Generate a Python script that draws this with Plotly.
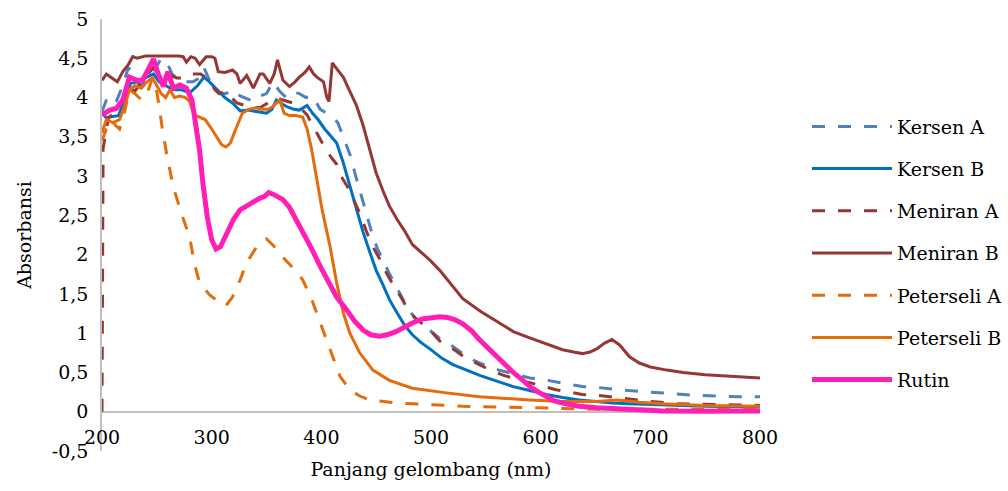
import plotly.graph_objects as go

# ---------------- data ----------------
x_ticks = [200, 300, 400, 500, 600, 700, 800]
y_tickvals = [-0.5, 0, 0.5, 1, 1.5, 2, 2.5, 3, 3.5, 4, 4.5, 5]
y_ticktext = ["-0,5", "0", "0,5", "1", "1,5", "2", "2,5", "3", "3,5", "4", "4,5", "5"]

kersen_a_x = [200, 204, 208, 213, 218, 224, 229, 234, 240, 245, 250, 254, 259, 264, 270, 277, 283, 289, 293, 297,
              302, 307, 313, 319, 326, 332, 338, 344, 350, 356, 362, 368, 374, 380, 386, 392, 399, 405, 410, 415,
              420, 426, 431, 436, 441, 446, 451, 456, 462, 467, 473, 479, 485, 492, 499, 508, 520, 530, 541, 551,
              562, 578, 590, 602, 614, 626, 638, 651, 663, 680, 700, 720, 740, 760, 780, 800]
kersen_a_y = [3.82, 3.97, 3.9, 3.95, 4.12, 4.38, 4.3, 4.15, 4.22, 4.28, 4.4, 4.5, 4.45, 4.3, 4.22, 4.2, 4.2, 4.25, 4.38, 4.25,
              4.12, 4.05, 4.05, 4.1, 4.02, 3.98, 3.95, 4.02, 4.05, 4.2, 4.08, 4.0, 4.07, 4.05, 4.0, 4.02, 3.85, 3.8, 3.75, 3.68,
              3.5, 3.28, 3.02, 2.77, 2.52, 2.28, 2.08, 1.93, 1.76, 1.63, 1.46, 1.31, 1.2, 1.12, 1.04, 0.93, 0.83, 0.73, 0.64, 0.58,
              0.53, 0.47, 0.43, 0.41, 0.38, 0.35, 0.32, 0.31, 0.29, 0.27, 0.25, 0.23, 0.21, 0.2, 0.19, 0.19]

kersen_b_x = [200, 204, 210, 215, 220, 226, 232, 240, 247, 252, 258, 265, 272, 280, 287, 293, 298, 305, 312, 319,
              326, 333, 341, 350, 355, 359, 364, 369, 375, 380, 387, 392, 397, 403, 408, 414, 420, 426, 432, 438,
              444, 450, 456, 462, 469, 476, 483, 491, 499, 510, 520, 530, 545, 560, 575, 590, 605, 620, 635, 651,
              665, 680, 700, 720, 750, 800]
kersen_b_y = [3.8, 3.74, 3.76, 3.77, 3.95, 4.18, 4.2, 4.25, 4.3, 4.2, 4.15, 4.1, 4.1, 4.06, 4.15, 4.26, 4.2, 4.1, 4.0, 3.93,
              3.83, 3.84, 3.82, 3.8, 3.85, 3.97, 3.92, 3.88, 3.85, 3.84, 3.9, 3.8, 3.72, 3.6, 3.52, 3.42, 3.17, 2.87, 2.57, 2.29,
              2.04, 1.8, 1.62, 1.43, 1.26, 1.1, 0.98, 0.88, 0.8, 0.68, 0.6, 0.54, 0.46, 0.39, 0.32, 0.27, 0.22, 0.18, 0.15, 0.13,
              0.11, 0.1, 0.09, 0.08, 0.07, 0.06]

meniran_a_x = [200, 201, 206, 212, 218, 224, 230, 236, 242, 248, 254, 260, 268, 275, 282, 290, 298, 303, 307, 312,
               318, 323, 330, 338, 344, 350, 356, 362, 368, 374, 380, 387, 393, 399, 405, 410, 414, 417, 424, 430,
               435, 441, 447, 453, 460, 467, 473, 479, 485, 492, 499, 508, 520, 530, 541, 551, 565, 578, 590, 602,
               614, 626, 638, 651, 663, 681, 700, 726, 760, 800]
meniran_a_y = [0, 3.35, 3.75, 3.8, 3.95, 4.15, 4.08, 4.2, 4.3, 4.4, 4.35, 4.3, 4.25, 4.25, 4.3, 4.3, 4.22, 4.1, 4.05, 4.08,
               4.0, 3.93, 3.9, 3.88, 3.87, 3.92, 3.98, 3.98, 3.95, 3.93, 3.88, 3.78, 3.62, 3.47, 3.32, 3.22, 3.15, 3.02, 2.86, 2.68,
               2.53, 2.3, 2.1, 1.95, 1.75, 1.58, 1.45, 1.3, 1.2, 1.12, 1.04, 0.9, 0.8, 0.7, 0.62, 0.55, 0.47, 0.41, 0.37, 0.32,
               0.28, 0.25, 0.22, 0.21, 0.19, 0.16, 0.13, 0.1, 0.09, 0.08]

meniran_b_x = [200, 204, 209, 214, 219, 224, 228, 232, 240, 250, 260, 270, 274, 277, 281, 285, 289, 295, 300, 303,
               306, 312, 319, 323, 326, 332, 338, 344, 347, 353, 357, 360, 365, 371, 376, 380, 385, 389, 393, 396,
               402, 405, 407, 410, 415, 420, 426, 432, 438, 444, 450, 456, 462, 469, 476, 483, 490, 499, 508, 517,
               529, 545, 560, 575, 590, 605, 620, 630, 638, 645, 651, 658, 665, 672, 681, 690, 700, 715, 730, 750,
               775, 800]
meniran_b_y = [4.22, 4.3, 4.25, 4.2, 4.33, 4.42, 4.52, 4.5, 4.53, 4.53, 4.53, 4.53, 4.52, 4.45, 4.52, 4.5, 4.42, 4.52, 4.52, 4.5,
               4.33, 4.32, 4.35, 4.3, 4.18, 4.28, 4.12, 4.3, 4.3, 4.18, 4.3, 4.48, 4.22, 4.14, 4.2, 4.26, 4.32, 4.39, 4.3, 4.26,
               4.2, 4.0, 3.95, 4.44, 4.35, 4.26, 4.08, 3.9, 3.65, 3.36, 3.04, 2.82, 2.62, 2.45, 2.3, 2.13, 2.04, 1.93, 1.8, 1.64,
               1.44, 1.28, 1.15, 1.02, 0.94, 0.86, 0.79, 0.76, 0.74, 0.76, 0.8, 0.87, 0.92, 0.85, 0.7, 0.62, 0.57, 0.53, 0.5, 0.47,
               0.45, 0.43]

peterseli_a_x = [200, 204, 208, 212, 216, 220, 225, 230, 236, 241, 246, 249, 252, 255, 259, 265, 273, 280, 284, 289,
                 298, 307, 313, 319, 326, 332, 341, 350, 356, 362, 368, 375, 383, 392, 399, 405, 410, 417, 426, 435,
                 444, 469, 499, 529, 560, 590, 620, 660, 700, 750, 800]
peterseli_a_y = [3.45, 3.6, 3.72, 3.65, 3.6, 3.78, 4.1, 4.05, 3.97, 4.05, 4.25, 4.15, 3.9, 3.6, 3.28, 2.86, 2.5, 2.22, 1.9, 1.64,
                 1.49, 1.39, 1.35, 1.46, 1.68, 1.9, 2.1, 2.2, 2.12, 2.02, 1.92, 1.82, 1.68, 1.4, 1.13, 0.9, 0.7, 0.45, 0.28, 0.2,
                 0.15, 0.11, 0.09, 0.07, 0.06, 0.05, 0.04, 0.03, 0.03, 0.03, 0.03]

peterseli_b_x = [200, 204, 210, 216, 221, 225, 230, 236, 241, 246, 250, 254, 258, 262, 266, 271, 276, 280, 284, 289,
                 294, 300, 305, 309, 313, 317, 322, 328, 334, 340, 346, 352, 357, 362, 366, 371, 377, 383, 387, 391,
                 396, 401, 408, 414, 420, 426, 435, 447, 462, 483, 514, 544, 590, 620, 651, 670, 690, 711, 750, 800]
peterseli_b_y = [3.55, 3.72, 3.68, 3.72, 3.9, 4.1, 4.15, 4.12, 4.2, 4.25, 4.15, 4.05, 4.0, 4.1, 4.0, 4.02, 4.0, 3.95, 3.78, 3.75,
                 3.72, 3.6, 3.48, 3.4, 3.37, 3.42, 3.6, 3.8, 3.85, 3.87, 3.85, 3.85, 3.9, 3.97, 3.8, 3.77, 3.77, 3.75, 3.6, 3.35,
                 2.95, 2.55, 2.1, 1.64, 1.26, 1.0, 0.75, 0.53, 0.4, 0.3, 0.24, 0.19, 0.15, 0.13, 0.13, 0.15, 0.12, 0.1, 0.08, 0.07]

rutin_x = [200, 207, 213, 219, 225, 232, 237, 242, 247, 251, 256, 260, 265, 271, 277, 282, 286, 289, 292, 296,
           300, 304, 308, 314, 320, 326, 332, 338, 344, 348, 352, 356, 360, 365, 371, 377, 383, 391, 399, 407,
           414, 423, 430, 438, 445, 453, 460, 468, 476, 483, 492, 500, 508, 515, 522, 529, 537, 544, 552, 560,
           568, 575, 583, 590, 598, 605, 612, 620, 635, 651, 680, 711, 750, 800]
rutin_y = [3.78, 3.84, 3.86, 3.97, 4.26, 4.22, 4.22, 4.35, 4.49, 4.31, 4.14, 4.33, 4.12, 4.16, 4.12, 3.97, 3.63, 3.33, 2.91, 2.48,
           2.19, 2.07, 2.1, 2.28, 2.45, 2.57, 2.62, 2.68, 2.72, 2.74, 2.79, 2.77, 2.74, 2.7, 2.6, 2.45, 2.28, 2.08, 1.85, 1.64,
           1.46, 1.3, 1.16, 1.04, 0.98, 0.96, 0.98, 1.02, 1.08, 1.13, 1.18, 1.2, 1.21, 1.2, 1.17, 1.12, 1.03, 0.92, 0.81, 0.7,
           0.6, 0.5, 0.41, 0.32, 0.25, 0.19, 0.14, 0.11, 0.07, 0.05, 0.03, 0.01, 0.005, 0.01]

# ---------------- styling ----------------
FONT = "DejaVu Serif"
FS = 19
DASH = "13px,13px"
series = [
    ("Kersen A", kersen_a_x, kersen_a_y, "#4F81BD", DASH, 3),
    ("Kersen B", kersen_b_x, kersen_b_y, "#0070C0", "solid", 3),
    ("Meniran A", meniran_a_x, meniran_a_y, "#953735", DASH, 3),
    ("Meniran B", meniran_b_x, meniran_b_y, "#953735", "solid", 3),
    ("Peterseli A", peterseli_a_x, peterseli_a_y, "#E46C0A", DASH, 3),
    ("Peterseli B", peterseli_b_x, peterseli_b_y, "#E46C0A", "solid", 3),
    ("Rutin", rutin_x, rutin_y, "#FF1FB5", "solid", 5),
]

fig = go.Figure()
for name, xs, ys, color, dash, w in series:
    fig.add_trace(go.Scatter(
        x=xs, y=ys, mode="lines", name=name, legendgroup=name,
        line=dict(color=color, width=w, dash=dash),
    ))

fig.update_layout(
    width=1008, height=491,
    margin=dict(l=102, r=248, t=19, b=40, autoexpand=False),
    paper_bgcolor="white", plot_bgcolor="white",
    font=dict(family=FONT, size=FS, color="black"),
    showlegend=True,
    legend=dict(
        xref="container", x=0.8006, xanchor="left",
        y=0.795, yanchor="top",
        itemwidth=80, tracegroupgap=14.5,
        font=dict(family=FONT, size=FS, color="black"),
        bgcolor="rgba(0,0,0,0)",
    ),
    xaxis=dict(
        range=[200, 800], tickvals=x_ticks, ticktext=[str(v) for v in x_ticks],
        showgrid=False, zeroline=False, showline=False,
        ticks="", ticklabelposition="inside", ticklabeloverflow="allow",
        tickfont=dict(family=FONT, size=FS, color="black"),
        title=dict(text="Panjang gelombang (nm)", font=dict(family=FONT, size=FS, color="black")),
    ),
    yaxis=dict(
        range=[-0.5, 5], tickvals=y_tickvals, ticktext=y_ticktext,
        showgrid=False, zeroline=True, zerolinecolor="#BFBFBF", zerolinewidth=1.5,
        showline=True, linecolor="#BFBFBF", linewidth=1.5,
        ticks="outside", ticklen=8, tickcolor="rgba(0,0,0,0)",
        tickfont=dict(family=FONT, size=FS, color="black"),
        title=dict(text="Absorbansi", font=dict(family=FONT, size=FS, color="black")),
    ),
)

fig.write_html("out.html")
